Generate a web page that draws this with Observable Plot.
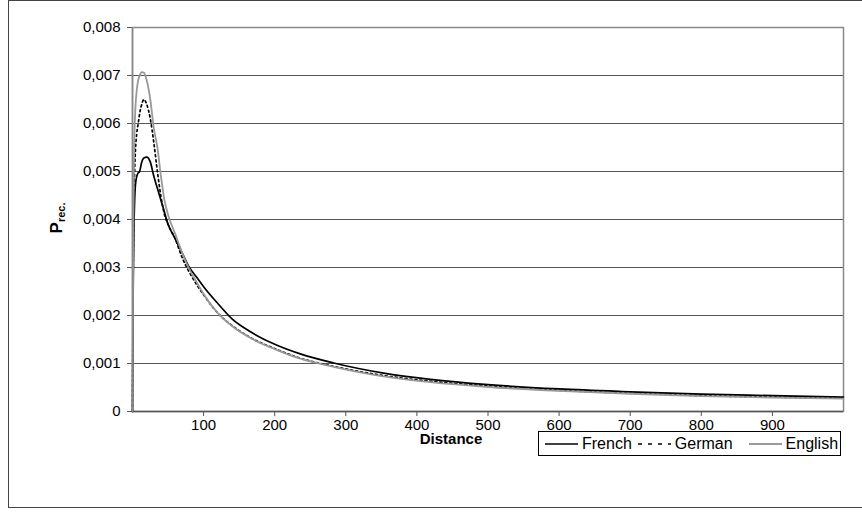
<!DOCTYPE html>
<html>
<head>
<meta charset="utf-8">
<script src="https://cdn.jsdelivr.net/npm/d3@7"></script>
<script src="https://cdn.jsdelivr.net/npm/@observablehq/plot@0.6"></script>
<style>
  html, body { margin: 0; padding: 0; background: #fff; }
  #wrap { position: relative; width: 862px; height: 512px; overflow: hidden; font-family: "Liberation Sans", Arial, sans-serif; }
  #frame { position: absolute; left: 8px; top: 0px; width: 900px; height: 506px; border: 1.5px solid #444; box-sizing: content-box; pointer-events: none; }
  #chart { position: absolute; left: 0; top: 0; }
  .xlabel { position: absolute; left: 451px; top: 438px; transform: translate(-50%, -50%); font-weight: bold; font-size: 15px; color: #000; }
  .ylabel { position: absolute; left: 57px; top: 218px; transform: translate(-50%, -50%) rotate(-90deg); font-weight: bold; font-size: 17px; color: #000; white-space: nowrap; }
  .ylabel sub { font-size: 11px; vertical-align: -3px; }
  #legend { position: absolute; left: 538px; top: 431px; width: 301px; height: 23px; border: 1px solid #000; background: #fff; display: flex; align-items: center; font-size: 16px; color: #000; }
  #legend .item { display: flex; align-items: center; margin-left: 6px; }
  #legend .item:last-child { margin-left: 16px; }
  #legend svg { margin-right: 4px; }
</style>
</head>
<body>
<div id="wrap">
  <div id="chart"></div>
  <div class="xlabel">Distance</div>
  <div class="ylabel">P<sub>rec.</sub></div>
  <div id="legend"></div>
  <div id="frame"></div>
</div>
<script>
const distance = [0,1,2,3,4,6,8,10,13,16,20,25,30,35,40,45,50,60,70,80,90,100,120,140,166,200,236,283,353,419,500,600,700,800,900,1000];
const french  = [0,0.0026,0.0038,0.0044,0.0047,0.0049,0.00497,0.0050,0.0052,0.00528,0.0053,0.0052,0.0049,0.00465,0.0044,0.00415,0.0039,0.0036,0.0033,0.0030,0.0028,0.0026,0.00225,0.00193,0.00166,0.0014,0.0012,0.00101,0.0008,0.00067,0.00056,0.00047,0.00041,0.00036,0.00033,0.0003];
const german  = [0,0.003,0.0043,0.0050,0.0054,0.0058,0.0060,0.0062,0.0064,0.0065,0.0064,0.0061,0.0056,0.0050,0.00448,0.0041,0.0039,0.0036,0.0032,0.0029,0.00265,0.00243,0.00205,0.00179,0.00154,0.00131,0.00111,0.00094,0.00075,0.00063,0.00053,0.00044,0.00038,0.00033,0.0003,0.00028];
const english = [0,0.0035,0.0052,0.0059,0.0063,0.0067,0.0069,0.0070,0.00707,0.00706,0.0069,0.0065,0.0059,0.0055,0.0049,0.0044,0.0041,0.0037,0.0033,0.00296,0.0027,0.00245,0.00205,0.00178,0.00153,0.0013,0.0011,0.00093,0.00073,0.00061,0.00051,0.00043,0.00037,0.00032,0.00029,0.00027];
const series = ["French", "German", "English"];
const xTicks = [100,200,300,400,500,600,700,800,900];
const yTicks = [0,0.001,0.002,0.003,0.004,0.005,0.006,0.007,0.008];

const styles = {
  French:  {stroke: "#000", strokeWidth: 1.7, dash: null},
  German:  {stroke: "#000", strokeWidth: 1.7, dash: "2,3"},
  English: {stroke: "#999", strokeWidth: 1.8, dash: null}
};
const values = {French: french, German: german, English: english};
const rows = series.map(s => distance.map((d, i) => ({d, v: values[s][i], s})));

const fmt = v => v === 0 ? "0" : d3.format(".3f")(v).replace(".", ",");

const lineMarks = series.map((s, k) => Plot.line(rows[k], {
  x: "d", y: "v", curve: "monotone-x",
  stroke: styles[s].stroke, strokeWidth: styles[s].strokeWidth,
  strokeDasharray: styles[s].dash
}));

const chart = Plot.plot({
  width: 862, height: 512,
  marginLeft: 132, marginRight: 19, marginTop: 27, marginBottom: 101,
  style: {fontFamily: "'Liberation Sans', Arial, sans-serif", fontSize: "15px", color: "#000", background: "transparent"},
  x: {domain: [0, 1000]},
  y: {domain: [0, 0.008]},
  marks: [
    Plot.gridY(yTicks, {stroke: "#555", strokeOpacity: 1, strokeWidth: 1}),
    Plot.frame({stroke: "#888", strokeWidth: 1.5}),
    Plot.ruleY([0], {stroke: "#555", strokeWidth: 1.5}),
    Plot.axisX(xTicks, {tickSize: 5, tickPadding: 3, tickFormat: d => String(d), label: null, stroke: "#555", fontSize: 15}),
    Plot.axisY(yTicks, {tickSize: 5, tickPadding: 7, tickFormat: fmt, label: null, stroke: "#555", fontSize: 15}),
    ...lineMarks,
    Plot.ruleX([0], {stroke: "#888", strokeWidth: 1.5})
  ]
});
document.getElementById("chart").appendChild(chart);

const legend = document.getElementById("legend");
series.forEach(s => {
  const st = styles[s];
  const item = document.createElement("div");
  item.className = "item";
  item.innerHTML = `<svg width="33" height="10"><line x1="0" x2="33" y1="5" y2="5" stroke="${st.stroke}" stroke-width="${st.strokeWidth}" ${st.dash ? `stroke-dasharray="4,6"` : ""}/></svg><span>${s}</span>`;
  legend.appendChild(item);
});
</script>
</body>
</html>
